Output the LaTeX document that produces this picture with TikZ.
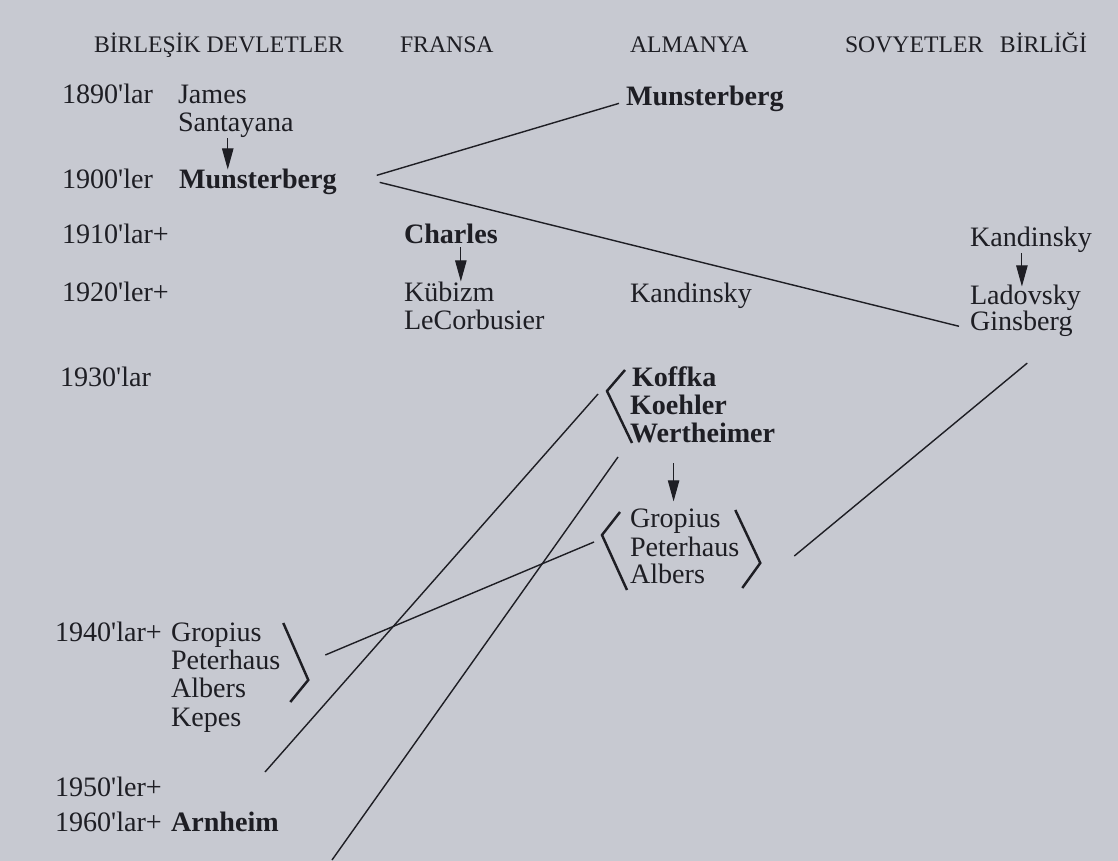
\documentclass[tikz,border=0pt]{standalone}
\usepackage{fontspec}
\setmainfont{Liberation Serif}
\usepackage{tikz}
\usetikzlibrary{arrows.meta, calc}
\definecolor{paper}{RGB}{199,201,209}
\definecolor{ink}{RGB}{30,30,36}
\newcommand{\apos}{\textquotesingle}

\begin{document}
\begin{tikzpicture}[x=0.02cm, y=-0.02cm,
  hdr/.style={font=\fontsize{13.5}{16}\selectfont, text=ink, anchor=base west,
              inner sep=0pt, outer sep=0pt},
  yr/.style={font=\fontsize{16}{19}\selectfont, text=ink, anchor=base west,
             inner sep=0pt, outer sep=0pt},
  nm/.style={yr},
  nmb/.style={yr, font=\fontsize{16}{19}\selectfont\bfseries},
  arrow/.style={-{Triangle[length=12pt, width=6.5pt]}, line width=0.6pt, draw=ink, fill=ink},
  link/.style={line width=0.8pt, draw=ink},
  brk/.style={line width=1.4pt, draw=ink, line join=miter},
]
  % paper
  \fill[paper] (0,0) rectangle (1118,861);

  % Column heads
  \node[hdr] (hUS) at (94,53) {BİRLEŞİK DEVLETLER};
  \node[hdr] (hFR) at (400,53) {FRANSA};
  \node[hdr] (hDE) at (630,53) {ALMANYA};
  \node[hdr] (hSU) at (845,53) {SOVYETLER\hspace{0.7em}BİRLİĞİ};

  % Decades
  \node[yr] (y1890) at (62,104) {1890\apos lar};
  \node[yr] (y1900) at (62,189) {1900\apos ler};
  \node[yr] (y1910) at (62,244) {1910\apos lar+};
  \node[yr] (y1920) at (62,301) {1920\apos ler+};
  \node[yr] (y1930) at (60,386) {1930\apos lar};
  \node[yr] (y1940) at (55,641) {1940\apos lar+};
  \node[yr] (y1950) at (55,796) {1950\apos ler+};
  \node[yr] (y1960) at (55,831) {1960\apos lar+};

  % US column
  \node[nm] (james) at (178,104) {James};
  \node[nm] (santa) at (178,132) {Santayana};
  \node[nmb] (munsUS) at (179,189) {Munsterberg};
  \node[nm] (gropUS) at (171,641) {Gropius};
  \node[nm] (peterUS) at (171,669) {Peterhaus};
  \node[nm] (albersUS) at (171,697) {Albers};
  \node[nm] (kepes) at (171,726) {Kepes};
  \node[nmb] (arnheim) at (171,831) {Arnheim};

  % France column
  \node[nmb] (charles) at (404,244) {Charles};
  \node[nm] (kubizm) at (404,301) {Kübizm};
  \node[nm] (lecorb) at (404,329) {LeCorbusier};

  % Germany column
  \node[nmb] (munsDE) at (626,106) {Munsterberg};
  \node[nm] (kandDE) at (630,302) {Kandinsky};
  \node[nmb] (koffka) at (632,386) {Koffka};
  \node[nmb] (koehler) at (630,414) {Koehler};
  \node[nmb] (werth) at (630,442) {Wertheimer};
  \node[nm] (gropDE) at (630,527) {Gropius};
  \node[nm] (peterDE) at (630,556) {Peterhaus};
  \node[nm] (albersDE) at (630,583) {Albers};

  % Soviet column
  \node[nm] (kandSU) at (970,247) {Kandinsky};
  \node[nm] (ladov) at (970,304) {Ladovsky};
  \node[nm] (ginsb) at (970,331) {Ginsberg};

  % arrows inside columns
  \draw[arrow] ($(santa.south)+(-8,0)$) -- ($(santa.south |- munsUS.north)+(-8,0)$);
  \draw[arrow] ($(charles.south)+(10,3)$) -- ($(charles.south |- kubizm.north)+(10,0)$);
  \draw[arrow] ($(kandSU.south)+(-9,0)$) -- ($(kandSU.south |- ladov.north)+(-9,2)$);
  \draw[arrow] ($(werth.south)+(-29,21)$) -- ($(werth.south |- gropDE.north)+(-29,-7)$);

  % Munsterberg links
  \draw[link] ($(munsUS.east)+(40,-7)$) -- ($(munsDE.west)+(-7,4)$);
  \draw[link] ($(munsUS.east)+(43,0)$) -- ($(ginsb.west)+(-11,2)$);

  % brackets
  \draw[brk] ($(koffka.base west)+(-7,-16)$) -- ++(-18,21) -- ++(25,52);
  \draw[brk] ($(gropDE.base west)+(-10,-15)$) -- ++(-18,23) -- ++(25,55);
  \draw[brk] ($(peterDE.base east)+(-4,-46)$) -- ++(25,53) -- ++(-18,25);
  \draw[brk] ($(peterUS.base east)+(3,-46)$) -- ++(25,57) -- ++(-18,22);

  % Gestalt and Bauhaus links
  \coordinate (end50) at (265,772);
  \coordinate (end60) at (332,860);
  \draw[link] ($(koffka.base west)+(-34,8)$) -- (end50);
  \draw[link] ($(werth.base west)+(-12,15)$) -- (end60);
  \draw[link] ($(gropDE.base west)+(-36,15)$) -- ($(peterUS.base east)+(45,-14)$);
  \draw[link] ($(peterDE.base east)+(55,0)$) -- ($(ginsb.south)+(6,26)$);
\end{tikzpicture}
\end{document}
